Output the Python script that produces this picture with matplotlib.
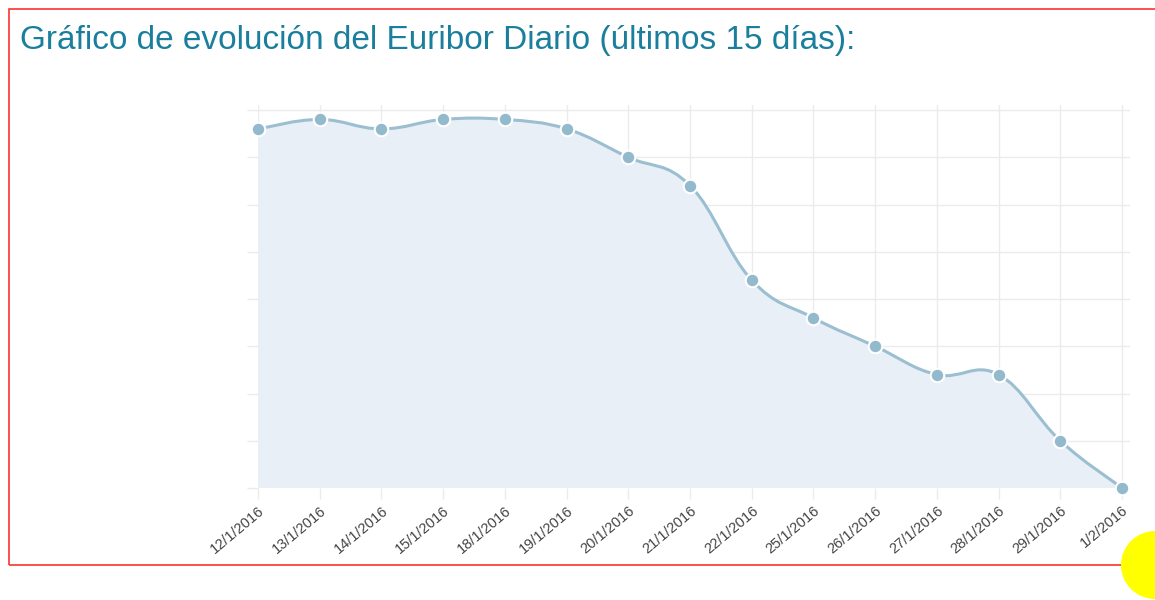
#Gráfico de evolución del Euribor diario
import numpy as np
import matplotlib
matplotlib.use('Agg')
from matplotlib import pyplot as plt
from matplotlib.path import Path
from matplotlib.patches import PathPatch, Rectangle, Ellipse

#Datos
fechas = ['12/1/2016', '13/1/2016', '14/1/2016', '15/1/2016', '18/1/2016',
          '19/1/2016', '20/1/2016', '21/1/2016', '22/1/2016', '25/1/2016',
          '26/1/2016', '27/1/2016', '28/1/2016', '29/1/2016', '1/2/2016']
euribor = [0.058, 0.059, 0.058, 0.059, 0.059, 0.058, 0.055, 0.052,
           0.042, 0.038, 0.035, 0.032, 0.032, 0.025, 0.020]

W, H = 1155, 600
fig = plt.figure(figsize=(W/100, H/100), dpi=100)

# ejes en pixeles
x0, x1, yb, yt = 258, 1130, 488, 105
ax = fig.add_axes([x0/W, 1-yb/H, (x1-x0)/W, (yb-yt)/H])

x = np.arange(len(fechas))
y = np.array(euribor)

#Curva suavizada (bezier con tension 0.4)
t = 0.4
pts = np.column_stack([x, y])
verts = [pts[0]]
codes = [Path.MOVETO]
for i in range(len(pts)-1):
    p1, p2 = pts[i], pts[i+1]
    p0 = pts[i-1] if i > 0 else p1
    p3 = pts[i+2] if i+2 < len(pts) else p2
    c1 = p1 + t/2*(p2-p0)
    c2 = p2 - t/2*(p3-p1)
    verts += [c1, c2, p2]
    codes += [Path.CURVE4]*3

ymin = 0.020
ymax = 0.060 + 5/47.2*0.005

fill_verts = verts + [(x[-1], ymin), (x[0], ymin), verts[0]]
fill_codes = codes + [Path.LINETO, Path.LINETO, Path.CLOSEPOLY]
ax.add_patch(PathPatch(Path(fill_verts, fill_codes), facecolor='#e9eff6',
                       edgecolor='none', zorder=1))
ax.add_patch(PathPatch(Path(verts, codes), facecolor='none',
                       edgecolor='#9bbfd1', lw=2.2, zorder=3))
ax.scatter(x, y, s=95, color='#93b9cc', edgecolors='white', linewidths=1.5,
           zorder=4, clip_on=False)

ax.set_xlim(0, 14 + 8/61.7)
ax.set_ylim(ymin, ymax)
ax.set_yticks(np.arange(0.020, 0.0601, 0.005))
ax.set_yticklabels([])
ax.set_xticks(x)
ax.set_xticklabels(fechas, rotation=40, ha='right', rotation_mode='anchor',
                   fontsize=10.5, color='#444444', family='Liberation Sans')
ax.tick_params(axis='both', length=8, color='#ebebeb', width=1)
ax.tick_params(axis='x', pad=3)
ax.grid(True, color='#ebebeb', lw=1, zorder=0)
ax.set_axisbelow(True)
for s in ax.spines.values():
    s.set_visible(False)

#Titulo
fig.text(20/W, 1-40/H, 'Gráfico de evolución del Euribor Diario (últimos 15 días):',
         fontsize=24, color='#1a7f9c', family='Liberation Sans', va='center', ha='left')

#Marco rojo y circulo amarillo
fig.patches.append(Rectangle((9/W, 1-565/H), 1.2, (565-9)/H, transform=fig.transFigure,
                             fill=False, edgecolor='#ff3030', lw=1.2))
fig.patches.append(Ellipse((1155/W, 1-565/H), 68/W, 68/H, transform=fig.transFigure,
                           facecolor='#ffff00', edgecolor='none', zorder=5))

fig.savefig('out.png', dpi=100)
